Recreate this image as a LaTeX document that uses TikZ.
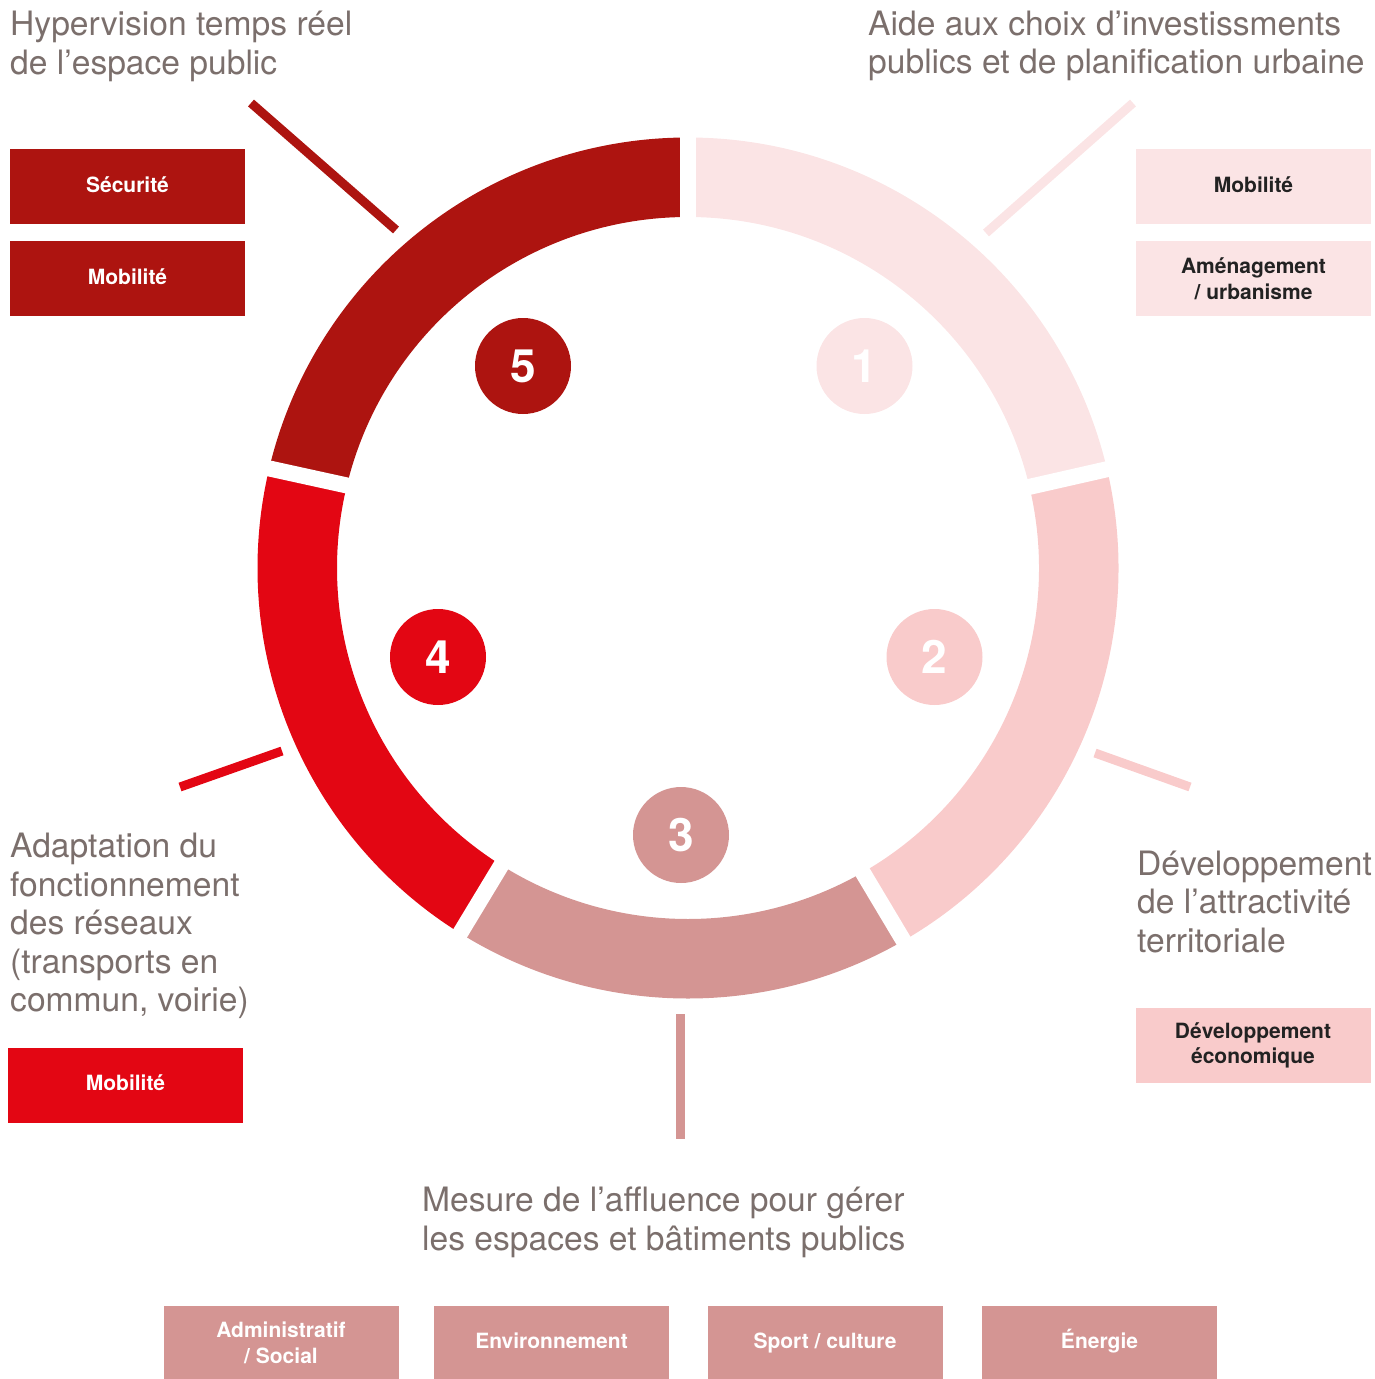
\documentclass[tikz,border=0pt]{standalone}
\usepackage{fontspec}
\setmainfont{TeX Gyre Heros}
\usepackage{tikz}

\definecolor{rougeFonce}{HTML}{AD1410}
\definecolor{roseClair}{HTML}{FBE4E5}
\definecolor{rosePale}{HTML}{F9CBCB}
\definecolor{vieuxRose}{HTML}{D49593}
\definecolor{rougeVif}{HTML}{E30613}
\definecolor{grisTitre}{HTML}{7B6F6C}
\definecolor{noirTexte}{HTML}{222222}

\begin{document}
\begin{tikzpicture}[x=1pt, y=1pt,
  titre/.style={anchor=base west, align=left, inner sep=0, text=grisTitre,
    font=\fontsize{33.6}{38.5}\selectfont},
  cadre/.style={minimum width=235, minimum height=75, inner sep=0, align=center,
    font=\bfseries\fontsize{21}{25.5}\selectfont},
  uneligne/.style={text height=15, text depth=4},
  pastille/.style={circle, minimum size=96, inner sep=0, text=white,
    font=\bfseries\fontsize{46}{46}\selectfont},
  trait/.style={line width=9},
  fente/.style={white, line width=16, shorten <=-15, shorten >=-15}]
\useasboundingbox (0,0) rectangle (1374,-1379);

% anneau
\fill[rougeFonce] (688,-568) ++(166.8:430.5) arc (166.8:90:430.5) -- ++(270:79.5) arc (90:166.8:351) -- cycle;
\fill[roseClair] (688,-568) ++(90:430.5) arc (90:13.1:430.5) -- ++(193.1:79.5) arc (13.1:90:351) -- cycle;
\fill[rosePale] (688,-568) ++(13.1:430.5) arc (13.1:-60:430.5) -- ++(120:79.5) arc (-60:13.1:351) -- cycle;
\fill[vieuxRose] (688,-568) ++(-60:430.5) arc (-60:-122:430.5) -- ++(58:79.5) arc (-122:-60:351) -- cycle;
\fill[rougeVif] (688,-568) ++(-122:430.5) arc (-122:-193.2:430.5) -- ++(-13.2:79.5) arc (-193.2:-122:351) -- cycle;

% separations
\draw[fente] (688,-217) -- (688,-137);
\draw[fente] (1031,-486.5) -- (1108,-469);
\draw[fente] (859.5,-867) -- (899.5,-934);
\draw[fente] (500.5,-866.5) -- (460,-933.5);
\draw[fente] (347,-485.5) -- (269.5,-468.5);

% traits
\draw[trait, rougeFonce] (396,-230) -- (251,-103);
\draw[trait, roseClair] (986,-233) -- (1133,-103);
\draw[trait, rosePale] (1095,-753) -- (1190,-787);
\draw[trait, vieuxRose] (680,-1014) -- (680,-1139);
\draw[trait, rougeVif] (282,-751) -- (180,-787);

% numeros
\node[pastille, fill=roseClair] (p1) at (864.5,-366) {1};
\node[pastille, fill=rosePale] (p2) at (934.5,-657) {2};
\node[pastille, fill=vieuxRose] (p3) at (681,-835) {3};
\node[pastille, fill=rougeVif] (p4) at (438,-657) {4};
\node[pastille, fill=rougeFonce] (p5) at (523,-366) {5};

% titres (base = derniere ligne)
\node[titre] (hyper) at (10,-74) {Hypervision temps réel\\de l’espace public};
\node[titre] (aide) at (868,-73.5) {Aide aux choix d’investissments\\publics et de planification urbaine};
\node[titre] (attract) at (1137,-952) {Développement\\de l’attractivité\\territoriale};
\node[titre] (adapt) at (10,-1011.5) {Adaptation du\\fonctionnement\\des réseaux\\(transports en\\commun, voirie)};
\node[titre] (mesure) at (422,-1250) {Mesure de l’affluence pour gérer\\les espaces et bâtiments publics};

% cadres
\node[cadre, uneligne, fill=rougeFonce, text=white] (securite) at (127.5,-186.5) {Sécurité};
\node[cadre, uneligne, fill=rougeFonce, text=white] (mobCinq) at (127.5,-278.5) {Mobilité};
\node[cadre, uneligne, fill=roseClair, text=noirTexte] (mobUn) at (1253.5,-186.5) {Mobilité};
\node[cadre, fill=roseClair, text=noirTexte] (amenag) at (1253.5,-278.5) {Aménagement\\/ urbanisme};
\node[cadre, fill=rosePale, text=noirTexte] (devEco) at (1253,-1045.5) {Développement\\économique};
\node[cadre, uneligne, fill=rougeVif, text=white] (mobQuatre) at (125.5,-1085) {Mobilité};
\node[cadre, fill=vieuxRose, text=white] (admin) at (281,-1343) {Administratif\\/ Social};
\node[cadre, uneligne, fill=vieuxRose, text=white] (envir) at (551.5,-1343) {Environnement};
\node[cadre, uneligne, fill=vieuxRose, text=white] (sport) at (825,-1343) {Sport / culture};
\node[cadre, uneligne, fill=vieuxRose, text=white] (energie) at (1099.5,-1343) {Énergie};

\end{tikzpicture}
\end{document}
